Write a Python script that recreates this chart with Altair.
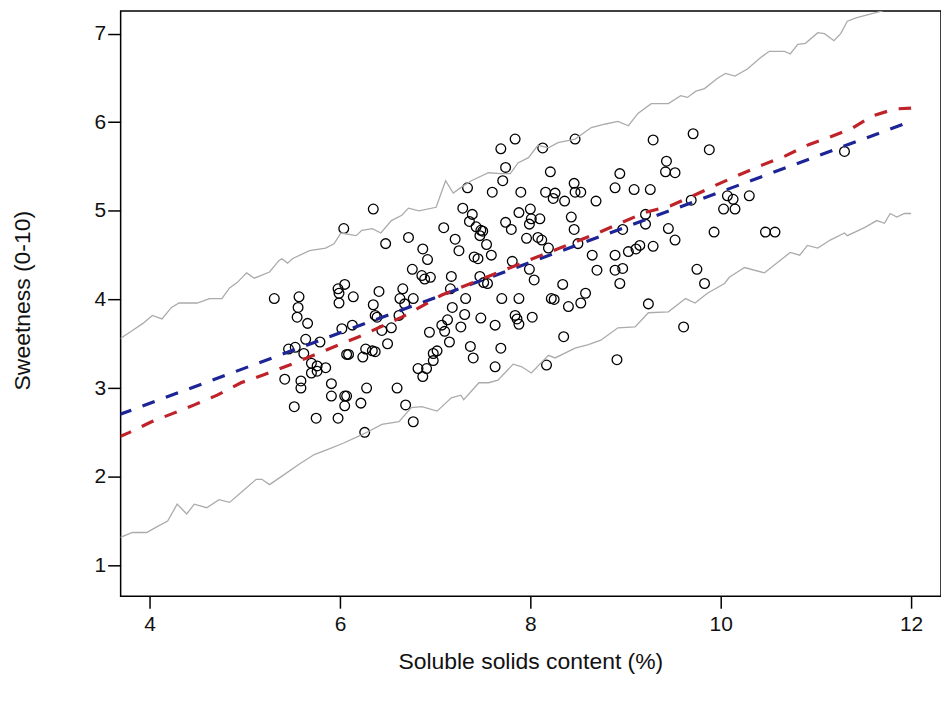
import altair as alt
import pandas as pd

# ---- scatter data (soluble solids %, sweetness score) ----
soluble = [
    6.35, 6.04, 6.48, 6.72, 6.05, 5.98, 5.99, 6.14, 5.99, 5.31,
    5.57, 5.56, 5.55, 5.66, 6.41, 6.35, 6.37, 6.39, 6.54, 6.44,
    6.02, 6.13, 6.66, 6.63, 6.68, 6.77, 5.64, 5.53, 5.46, 5.79,
    5.62, 5.70, 5.76, 5.85, 5.76, 5.70, 5.42, 5.59, 5.59, 5.91,
    5.91, 6.07, 6.09, 6.27, 6.34, 6.37, 6.24, 6.50, 6.28, 6.05,
    6.07, 6.05, 6.22, 5.52, 5.75, 5.98, 6.60, 6.69, 6.26, 6.62,
    7.34, 7.60, 7.71, 7.90, 8.16, 7.29, 7.39, 7.36, 7.48, 7.50,
    7.47, 7.09, 7.21, 7.25, 7.54, 7.59, 7.41, 7.45, 6.87, 6.92,
    6.76, 6.86, 6.95, 6.89, 7.17, 7.47, 7.51, 7.55, 7.74, 7.80,
    7.88, 8.00, 8.01, 8.10, 7.99, 7.96, 8.08, 8.12, 8.19, 7.81,
    7.99, 8.04, 7.16, 7.32, 7.70, 7.88, 7.18, 7.31, 7.48, 7.13,
    7.07, 7.10, 7.27, 6.94, 7.15, 7.63, 7.84, 7.86, 7.88, 8.02,
    7.37, 7.40, 7.69, 7.63, 7.02, 6.98, 6.98, 6.82, 6.91, 6.87,
    6.77, 8.17, 7.84, 7.69, 8.13, 8.47, 7.74, 8.21,
    8.26, 8.24, 8.36, 8.46, 8.47, 8.53, 8.43, 8.46, 8.69, 8.89,
    8.65, 8.70, 8.89, 8.89, 8.34, 8.58, 8.53, 8.40, 8.22, 8.25,
    8.35, 7.43, 8.50, 8.94,
    9.71, 9.29, 9.88, 9.43, 9.42, 9.52, 9.09, 9.26, 11.30, 10.30,
    10.07, 10.13, 10.03, 10.15, 9.69, 9.21, 9.21, 8.97, 9.45, 9.52,
    9.93, 10.47, 10.57, 9.15, 9.11, 9.03, 9.29, 8.97, 8.94, 9.75,
    9.83, 9.24, 9.61, 8.91,
]
sweetness = [
    5.02, 4.80, 4.63, 4.70, 4.17, 4.12, 4.07, 4.03, 3.96, 4.01,
    4.03, 3.91, 3.80, 3.73, 4.09, 3.94, 3.82, 3.80, 3.68, 3.65,
    3.67, 3.71, 4.12, 4.01, 3.95, 4.01, 3.55, 3.46, 3.44, 3.52,
    3.39, 3.28, 3.25, 3.23, 3.19, 3.17, 3.10, 3.08, 3.00, 3.05,
    2.91, 3.38, 3.38, 3.44, 3.42, 3.41, 3.35, 3.50, 3.00, 2.91,
    2.91, 2.80, 2.83, 2.79, 2.66, 2.66, 3.00, 2.81, 2.50, 3.82,
    5.26, 5.21, 5.34, 5.21, 5.21, 5.03, 4.96, 4.88, 4.78, 4.77,
    4.72, 4.81, 4.68, 4.55, 4.62, 4.50, 4.48, 4.46, 4.57, 4.45,
    4.34, 4.27, 4.25, 4.23, 4.26, 4.26, 4.19, 4.18, 4.87, 4.79,
    4.98, 5.02, 4.91, 4.91, 4.85, 4.69, 4.70, 4.67, 4.58, 4.43,
    4.34, 4.22, 4.12, 4.01, 4.01, 4.01, 3.91, 3.83, 3.79, 3.77,
    3.71, 3.64, 3.69, 3.63, 3.52, 3.71, 3.82, 3.78, 3.72, 3.80,
    3.47, 3.34, 3.45, 3.24, 3.42, 3.39, 3.31, 3.22, 3.22, 3.13,
    2.62, 3.26, 5.81, 5.70, 5.71, 5.81, 5.49, 5.44,
    5.20, 5.14, 5.11, 5.31, 5.21, 5.21, 4.93, 4.79, 5.11, 5.26,
    4.50, 4.33, 4.50, 4.33, 4.17, 4.07, 3.96, 3.92, 4.01, 4.00,
    3.58, 4.82, 4.63, 5.42,
    5.87, 5.80, 5.69, 5.56, 5.44, 5.43, 5.24, 5.24, 5.67, 5.17,
    5.17, 5.13, 5.02, 5.02, 5.12, 4.96, 4.85, 4.79, 4.80, 4.67,
    4.76, 4.76, 4.76, 4.61, 4.57, 4.54, 4.60, 4.35, 4.18, 4.34,
    4.18, 3.95, 3.69, 3.32,
]

# ---- upper grey band ----
upper_x = [3.68, 3.82, 3.93, 4.03, 4.13, 4.23, 4.31, 4.50, 4.63, 4.76,
           4.84, 4.92, 5.02, 5.10, 5.26, 5.36, 5.39, 5.45, 5.50, 5.68,
           5.85, 5.94, 6.01, 6.17, 6.23, 6.34, 6.43, 6.54, 6.65, 6.72,
           6.83, 7.01, 7.11, 7.19, 7.28, 7.38, 7.56, 7.69, 7.79, 7.87,
           7.98, 8.08, 8.19, 8.29, 8.47, 8.64, 8.79, 8.92, 9.03, 9.13,
           9.27, 9.45, 9.58, 9.65, 9.74, 9.83, 9.97, 10.05, 10.15, 10.28,
           10.42, 10.51, 10.67, 10.73, 10.81, 10.89, 11.02, 11.09, 11.19, 11.26,
           11.33, 11.43, 11.57, 11.68, 12.0]
upper_y = [3.55, 3.65, 3.73, 3.82, 3.78, 3.91, 3.96, 3.96, 4.01, 4.01,
           4.13, 4.19, 4.30, 4.24, 4.31, 4.44, 4.46, 4.41, 4.46, 4.55,
           4.58, 4.63, 4.75, 4.72, 4.78, 4.80, 4.75, 4.89, 4.95, 5.03,
           5.00, 5.04, 5.34, 5.20, 5.27, 5.34, 5.43, 5.42, 5.42, 5.54,
           5.60, 5.74, 5.71, 5.77, 5.81, 5.94, 5.98, 6.01, 5.96, 6.10,
           6.21, 6.21, 6.30, 6.28, 6.35, 6.38, 6.50, 6.55, 6.52, 6.60,
           6.73, 6.80, 6.80, 6.77, 6.88, 6.89, 7.01, 7.00, 6.92, 7.00,
           7.14, 7.18, 7.22, 7.25, 7.37]

# ---- lower grey band ----
lower_x = [3.68, 3.82, 3.97, 4.07, 4.19, 4.29, 4.39, 4.47, 4.60, 4.73,
           4.84, 4.97, 5.12, 5.18, 5.26, 5.41, 5.57, 5.73, 5.88, 6.04,
           6.18, 6.30, 6.44, 6.62, 6.75, 6.86, 7.02, 7.17, 7.27, 7.30,
           7.46, 7.56, 7.66, 7.82, 7.91, 8.01, 8.19, 8.26, 8.47, 8.61,
           8.74, 8.92, 9.10, 9.24, 9.45, 9.63, 9.73, 9.86, 10.04, 10.09,
           10.25, 10.46, 10.60, 10.73, 10.83, 10.91, 11.02, 11.15, 11.30, 11.33,
           11.51, 11.64, 11.72, 11.78, 11.85, 11.93, 12.0]
lower_y = [1.31, 1.37, 1.37, 1.43, 1.50, 1.69, 1.58, 1.69, 1.65, 1.74,
           1.71, 1.83, 1.97, 1.97, 1.91, 2.02, 2.14, 2.25, 2.31, 2.38,
           2.45, 2.51, 2.59, 2.62, 2.78, 2.79, 2.74, 2.89, 2.92, 2.87,
           3.06, 3.06, 3.09, 3.27, 3.24, 3.17, 3.37, 3.34, 3.45, 3.49,
           3.54, 3.68, 3.69, 3.85, 3.86, 4.01, 3.96, 4.07, 4.18, 4.25,
           4.36, 4.30, 4.42, 4.53, 4.50, 4.61, 4.58, 4.67, 4.75, 4.72,
           4.81, 4.89, 4.86, 4.97, 4.93, 4.97, 4.97]

# ---- red dashed (nonlinear fit) ----
red_x = [3.68, 3.79, 4.02, 4.26, 4.47, 4.71, 4.96, 5.20, 5.47, 6.20,
         6.65, 7.07, 8.12, 8.71, 9.20, 9.48, 9.71, 9.95, 10.18, 10.42,
         10.68, 10.93, 11.14, 11.38, 11.59, 11.83, 12.0]
red_y = [2.45, 2.50, 2.62, 2.72, 2.81, 2.92, 3.06, 3.15, 3.26, 3.58,
         3.80, 4.05, 4.50, 4.75, 4.98, 5.06, 5.17, 5.29, 5.40, 5.51,
         5.62, 5.75, 5.83, 5.93, 6.07, 6.15, 6.16]

# ---- blue dashed (linear fit) ----
blue_x = [3.68, 12.0]
blue_y = [2.70, 6.01]

pts = pd.DataFrame({"x": soluble, "y": sweetness})
up = pd.DataFrame({"x": upper_x, "y": upper_y})
lo = pd.DataFrame({"x": lower_x, "y": lower_y})
red = pd.DataFrame({"x": red_x, "y": red_y})
blue = pd.DataFrame({"x": blue_x, "y": blue_y})

FONT = "Liberation Sans"
xs = alt.Scale(domain=[3.696, 12.314], nice=False, zero=False)
ys = alt.Scale(domain=[0.651, 7.254], nice=False, zero=False)

xaxis = alt.Axis(values=[4, 6, 8, 10, 12], title="Soluble solids content (%)",
                 grid=False, domain=False, tickSize=12, tickWidth=1.5,
                 tickColor="black", labelFontSize=21, labelColor="#111111",
                 labelPadding=5, labelFont=FONT, titleFont=FONT,
                 titleFontSize=23, titleFontWeight="normal", titleColor="#111111",
                 titleX=411, titleY=66, titleBaseline="middle", titleAlign="center")
yaxis = alt.Axis(values=[1, 2, 3, 4, 5, 6, 7], title="Sweetness (0-10)",
                 grid=False, domain=False, tickSize=13, tickWidth=1.5,
                 tickColor="black", labelFontSize=21, labelColor="#111111",
                 labelPadding=2, labelAngle=0, labelFont=FONT, titleFont=FONT,
                 titleFontSize=23, titleFontWeight="normal", titleColor="#111111",
                 titleX=-98, titleY=290, titleAngle=-90,
                 titleBaseline="middle", titleAlign="center")

X = alt.X("x:Q", scale=xs, axis=xaxis)
Y = alt.Y("y:Q", scale=ys, axis=yaxis)

points = alt.Chart(pts).mark_point(shape="circle", filled=False, color="black",
                                    size=95, strokeWidth=1.3, opacity=1).encode(x=X, y=Y)
upper = alt.Chart(up).mark_line(color="#ababab", strokeWidth=1.3, clip=True).encode(x=X, y=Y)
lower = alt.Chart(lo).mark_line(color="#ababab", strokeWidth=1.3, clip=True).encode(x=X, y=Y)
blue_l = alt.Chart(blue).mark_line(color="#1c2496", strokeWidth=3.2, strokeDash=[13, 12],
                                   clip=True).encode(x=X, y=Y)
red_l = alt.Chart(red).mark_line(color="#bf2329", strokeWidth=3.2, strokeDash=[13, 12],
                                 clip=True).encode(x=X, y=Y)

chart = alt.layer(points, upper, lower, blue_l, red_l).properties(
    width=823, height=587,
    padding={"left": 113, "top": 2, "right": 0, "bottom": 100},
    autosize="none",
    background="white",
).configure_view(stroke="black", strokeWidth=1.5)

chart.save("out.html", embed_options={"renderer": "svg", "actions": False})
